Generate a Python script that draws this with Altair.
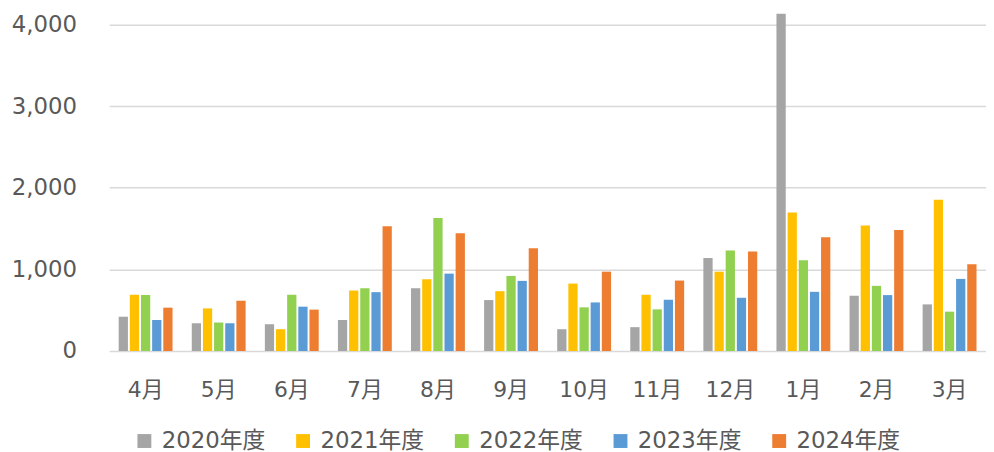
import altair as alt
import pandas as pd

months = ["4月", "5月", "6月", "7月", "8月", "9月", "10月", "11月", "12月", "1月", "2月", "3月"]
years = ["2020年度", "2021年度", "2022年度", "2023年度", "2024年度"]
colors = ["#A5A5A5", "#FFC000", "#92D050", "#5B9BD5", "#ED7D31"]

v2020 = [420, 340, 328, 380, 769, 624, 267, 292, 1138, 4131, 677, 571]
v2021 = [689, 522, 267, 741, 879, 733, 826, 689, 972, 1697, 1536, 1852]
v2022 = [686, 349, 689, 769, 1628, 920, 535, 510, 1231, 1111, 798, 482]
v2023 = [380, 340, 543, 721, 948, 859, 595, 628, 652, 725, 685, 883]
v2024 = [531, 616, 507, 1527, 1442, 1260, 972, 863, 1219, 1394, 1482, 1062]

series = [v2020, v2021, v2022, v2023, v2024]
rows = []
for y, vals in zip(years, series):
    for m, v in zip(months, vals):
        rows.append({"month": m, "year": y, "value": v})
df = pd.DataFrame(rows)

FONT = "DejaVu Sans, Noto Sans CJK JP, sans-serif"
TXT = "#595959"

chart = alt.Chart(df).mark_bar().encode(
    x=alt.X("month:N", sort=months,
            scale=alt.Scale(paddingInner=0.263, paddingOuter=0.13),
            axis=alt.Axis(title=None, labelAngle=0, domain=False, ticks=False,
                          labelFontSize=22, labelColor=TXT, labelFont=FONT,
                          labelPadding=29, grid=False)),
    xOffset=alt.XOffset("year:N", sort=years, scale=alt.Scale(paddingInner=0.17)),
    y=alt.Y("value:Q",
            scale=alt.Scale(domain=[0, 4131], nice=False, clamp=True),
            axis=alt.Axis(title=None, values=[0, 1000, 2000, 3000, 4000], format=",.0f",
                          domain=False, ticks=False, labelFontSize=23, labelColor=TXT,
                          labelFont=FONT, labelPadding=33, gridColor="#D9D9D9",
                          gridWidth=1.5)),
    color=alt.Color("year:N", sort=years,
                    scale=alt.Scale(domain=years, range=colors),
                    legend=alt.Legend(title=None, orient="none", direction="horizontal",
                                      legendX=24, legendY=419, symbolType="square",
                                      symbolSize=196, symbolStrokeWidth=0,
                                      labelFontSize=23, labelColor=TXT, labelFont=FONT,
                                      columnPadding=26, symbolOffset=0, labelOffset=6,
                                      padding=0)),
).properties(
    width=884, height=340,
    padding={"left": 102, "top": 4, "right": 0, "bottom": 100},
    autosize=alt.AutoSizeParams(type="none"),
).configure_view(stroke=None)

chart.save("out.html", embed_options={"renderer": "svg", "actions": False})
